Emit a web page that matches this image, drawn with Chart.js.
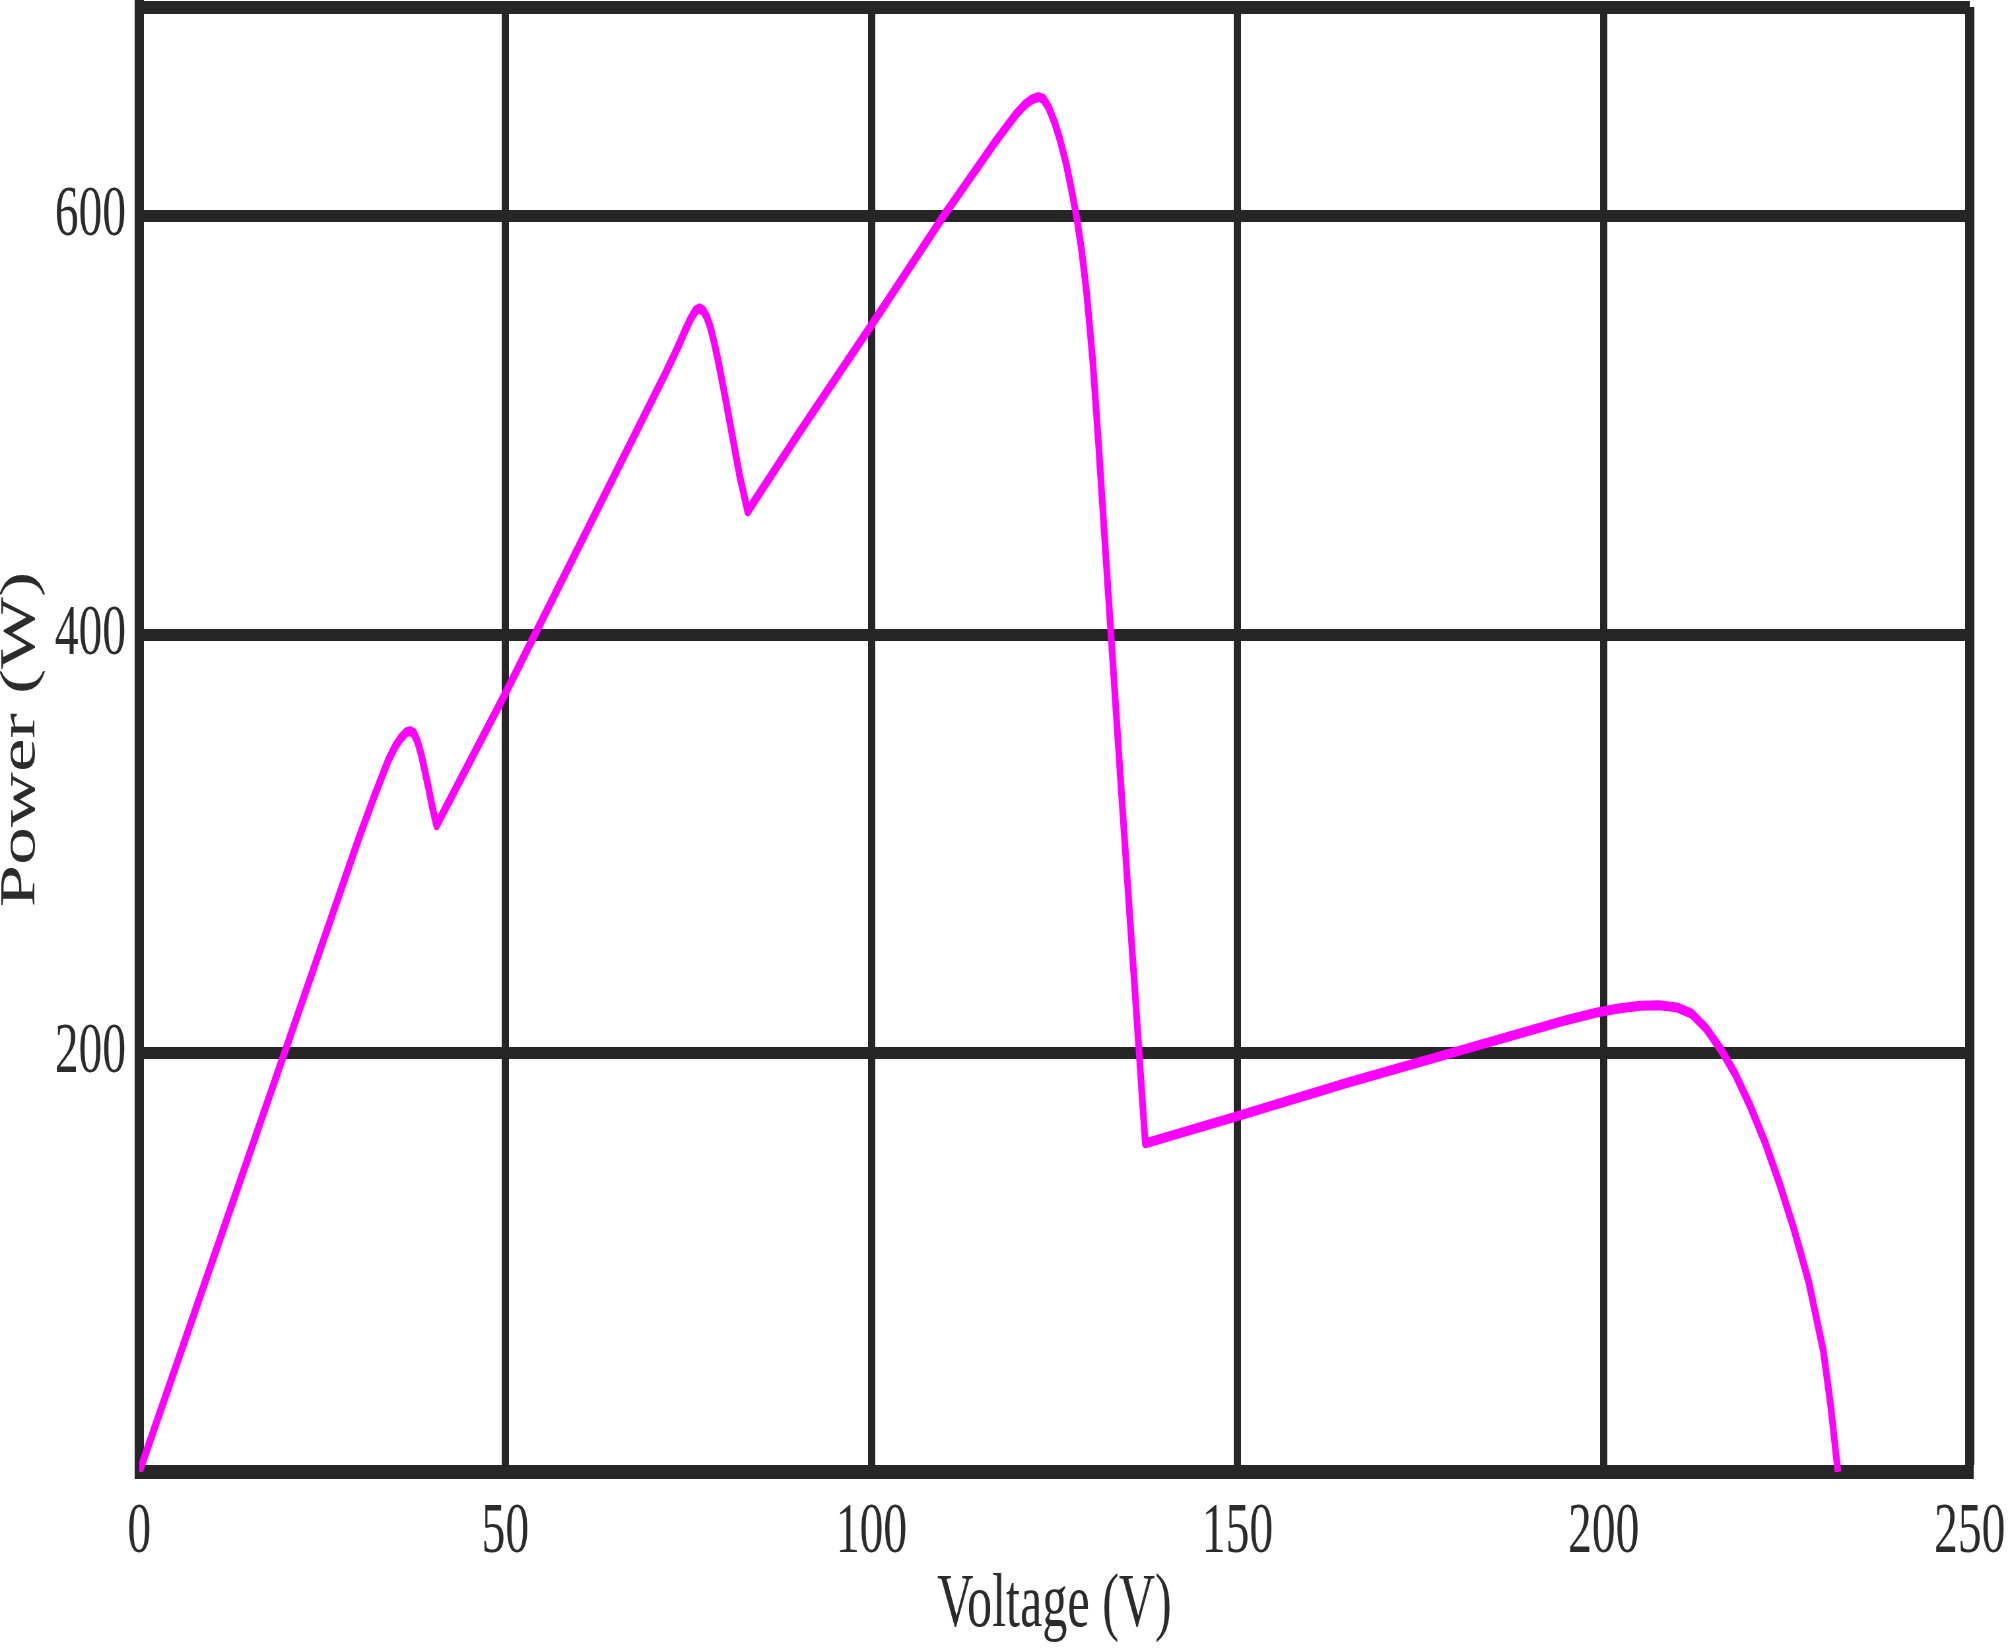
<!DOCTYPE html>
<html lang="en">
<head>
    <meta charset="UTF-8">
    <title>Power vs Voltage</title>
    <script src="https://cdn.jsdelivr.net/npm/chart.js"></script>
    <style>
        html, body { margin: 0; padding: 0; background: #ffffff; overflow: hidden; }
        #pvChart { display: block; }
    </style>
</head>
<body>
    <!-- drawn wide, then shown narrower: the reference is squeezed sideways -->
    <canvas id="pvChart" width="3042" height="1648" style="width:2008px;height:1648px"></canvas>

    <script>
        const voltage = [0, 10, 20, 30, 32, 33, 34, 35, 35.8, 36.5, 37, 37.5, 38, 38.5, 39, 39.5, 40, 40.6,
            50, 60, 70, 72, 73.5, 74.5, 75.3, 76, 76.5, 77, 77.5, 78, 78.5, 79, 79.5, 80, 81, 82, 83.1,
            90, 100, 110, 112, 115, 117, 118.5, 119.8, 121, 122, 122.8, 123.5, 124.2, 125, 125.8, 126.6, 127.3,
            128, 128.7, 129.4, 130.2, 131, 132, 133, 134, 135, 136, 137.4,
            150, 165, 180, 190, 195, 199, 202, 205, 207.5, 210, 212, 214, 216, 218, 220, 222, 224, 226, 228, 230, 231, 232];
        const power = [0, 101, 202, 303, 322, 331, 340, 347, 351, 353.5, 354, 353, 349, 343, 335, 327, 318, 309,
            372, 442, 512, 526, 537, 545, 551, 555, 556, 555, 552, 547, 540, 532, 523, 514, 495, 476, 459,
            496, 548, 601, 611, 626, 636, 643, 649, 653.5, 656, 657, 656, 652, 645, 636, 625, 613,
            600, 584, 563, 532, 492, 438, 385, 332, 280, 229, 157,
            170, 186, 201, 211, 216, 219.5, 221.5, 222.8, 223, 222, 219, 212, 202, 190, 175, 158, 138, 116, 91, 58, 32, 0];

        const xTicks = [0, 50, 100, 150, 200, 250];
        const yTicks = [0, 200, 400, 600, 700];
        const yLabelled = [200, 400, 600];

        const gridColor = '#262626';
        const textColor = '#2b2b2b';

        const points = voltage.map((v, i) => ({ x: v, y: power[i] }));

        new Chart(document.getElementById('pvChart'), {
            type: 'line',
            data: {
                datasets: [{
                    label: 'Power',
                    data: points,
                    borderColor: '#ff00ff',
                    borderWidth: 10,
                    borderJoinStyle: 'round',
                    pointRadius: 0,
                    tension: 0,
                    fill: false
                }]
            },
            options: {
                responsive: false,
                animation: false,
                layout: { padding: { top: 7, right: 58, left: 0, bottom: 0 } },
                plugins: { legend: { display: false }, tooltip: { enabled: false } },
                scales: {
                    x: {
                        type: 'linear',
                        min: 0,
                        max: 250,
                        afterBuildTicks: scale => { scale.ticks = xTicks.map(v => ({ value: v })); },
                        afterFit: scale => {
                            scale.height = 176;
                            scale.paddingLeft = 0;
                            scale.paddingRight = 0;
                        },
                        grid: {
                            color: gridColor,
                            lineWidth: ctx => (ctx.tick && ctx.tick.value === 250 ? 14 : 11),
                            drawTicks: false
                        },
                        border: { display: true, color: gridColor, width: 14 },
                        ticks: {
                            padding: 18,
                            color: textColor,
                            font: { family: 'Liberation Serif', size: 72 },
                            maxRotation: 0
                        },
                        title: {
                            display: true,
                            text: 'Voltage (V)',
                            color: textColor,
                            font: { family: 'Liberation Serif', size: 76 },
                            padding: { top: 0, bottom: -4 }
                        }
                    },
                    y: {
                        min: 0,
                        max: 700,
                        afterBuildTicks: scale => { scale.ticks = yTicks.map(v => ({ value: v })); },
                        afterFit: scale => {
                            scale.width = 211;
                            scale.paddingTop = 0;
                            scale.paddingBottom = 0;
                        },
                        grid: {
                            color: gridColor,
                            lineWidth: ctx => (ctx.tick && ctx.tick.value === 700 ? 13 : 12),
                            drawTicks: false
                        },
                        border: { display: true, color: gridColor, width: 14 },
                        ticks: {
                            padding: 20,
                            color: textColor,
                            font: { family: 'Liberation Serif', size: 72 },
                            callback: value => (yLabelled.includes(value) ? String(value) : '')
                        },
                        title: {
                            display: true,
                            text: 'Power (W)',
                            color: textColor,
                            font: { family: 'Liberation Serif', size: 76 },
                            padding: { top: -14, bottom: 0 }
                        }
                    }
                }
            }
        });
    </script>
</body>
</html>
